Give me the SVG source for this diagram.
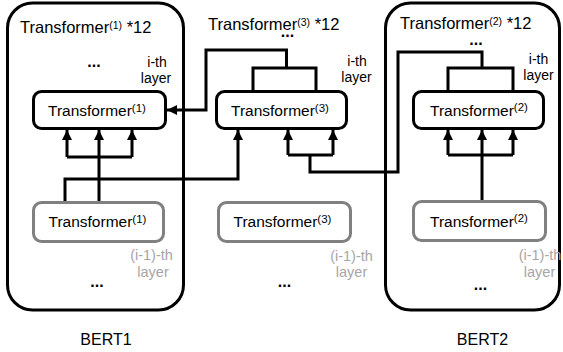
<svg xmlns="http://www.w3.org/2000/svg" width="563" height="352" viewBox="0 0 563 352">
<style>
text{font-family:"Liberation Sans",Arial,sans-serif;fill:#000}
.outer{fill:none;stroke:#000;stroke-width:3}
.blk{fill:#fff;stroke:#000;stroke-width:3}
.gry{fill:#fff;stroke:#808080;stroke-width:3}
.title{font-size:16.5px}
.sup{font-size:10.5px}
.inn{font-size:15.5px}
.isup{font-size:11.5px}
.lab{font-size:14px;text-anchor:middle}
.glab{font-size:14.5px;text-anchor:middle;fill:#a6a6a6}
.dots{font-size:16px;font-weight:bold;text-anchor:middle}
.cap{font-size:16px;text-anchor:middle}
.c{fill:none;stroke:#000;stroke-width:3}
</style>
<defs>
<marker id="ah" viewBox="0 0 10 10" refX="10" refY="5" markerWidth="10" markerHeight="10" markerUnits="userSpaceOnUse" orient="auto">
<path d="M0,0 L10,5 L0,10 z" fill="#000"/>
</marker>
</defs>

<g id="bert1">
<rect class="outer" x="7.5" y="3" width="176" height="307" rx="25"/>
<text class="title" x="20" y="33">Transformer<tspan class="sup" dy="-4.5">(1)</tspan><tspan dy="4.5"> *12</tspan></text>
<text class="dots" x="94" y="67">...</text>
<text class="lab" x="157" y="67">i-th</text>
<text class="lab" x="156" y="83">layer</text>
<text class="glab" x="151.5" y="260">(i-1)-th</text>
<text class="glab" x="153" y="277">layer</text>
<text class="dots" x="97" y="287">...</text>
<text class="cap" x="106" y="345">BERT1</text>
</g>

<g id="bert3">
<text class="title" x="208" y="30">Transformer<tspan class="sup" dy="-4.5">(3)</tspan><tspan dy="4.5"> *12</tspan></text>
<text class="dots" x="287.5" y="37">...</text>
<text class="lab" x="357" y="66">i-th</text>
<text class="lab" x="356.5" y="82">layer</text>
<text class="glab" x="351.5" y="261">(i-1)-th</text>
<text class="glab" x="351.5" y="277">layer</text>
<text class="dots" x="284.5" y="287">...</text>
</g>

<g id="bert2">
<rect class="outer" x="385.5" y="3" width="174" height="307" rx="25"/>
<text class="title" x="400" y="29">Transformer<tspan class="sup" dy="-4.5">(2)</tspan><tspan dy="4.5"> *12</tspan></text>
<text class="dots" x="476" y="45">...</text>
<text class="lab" x="538.5" y="64">i-th</text>
<text class="lab" x="538.5" y="80">layer</text>
<text class="glab" x="540" y="260">(i-1)-th</text>
<text class="glab" x="539.5" y="277">layer</text>
<text class="dots" x="480.5" y="290">...</text>
<text class="cap" x="482.5" y="345">BERT2</text>
</g>

<g id="connectors">
<path class="c" d="M67,157 H132"/>
<path class="c" d="M67,157 V130" marker-end="url(#ah)"/>
<path class="c" d="M132,157 V130" marker-end="url(#ah)"/>
<path class="c" d="M99,201 V130" marker-end="url(#ah)"/>
<path class="c" d="M65,201 V179 H238 V130" marker-end="url(#ah)"/>
<path class="c" d="M288,155 H333"/>
<path class="c" d="M288,155 V130" marker-end="url(#ah)"/>
<path class="c" d="M333,155 V130" marker-end="url(#ah)"/>
<path class="c" d="M310,155 V172 H398 V52 H482 V68"/>
<path class="c" d="M448,90 V68 H513 V90"/>
<path class="c" d="M448,155 H513"/>
<path class="c" d="M448,155 V130" marker-end="url(#ah)"/>
<path class="c" d="M513,155 V130" marker-end="url(#ah)"/>
<path class="c" d="M482,201 V130" marker-end="url(#ah)"/>
<path class="c" d="M253,90 V68 H316 V90"/>
<path class="c" d="M286.5,68 V50 H206 V110 H167" marker-end="url(#ah)"/>
</g>

<g id="t1-i">
<rect class="blk" x="33.5" y="91.5" width="132" height="37" rx="8"/>
<text class="inn" x="48" y="116">Transformer<tspan class="isup" dy="-4.3">(1)</tspan></text>
</g>
<g id="t3-i">
<rect class="blk" x="216.5" y="91.5" width="130" height="37" rx="8"/>
<text class="inn" x="231" y="116">Transformer<tspan class="isup" dy="-4.3">(3)</tspan></text>
</g>
<g id="t2-i">
<rect class="blk" x="413.5" y="91.5" width="130" height="37" rx="8"/>
<text class="inn" x="430" y="115.5">Transformer<tspan class="isup" dy="-4.3">(2)</tspan></text>
</g>
<g id="t1-prev">
<rect class="gry" x="33.5" y="202.5" width="130" height="39" rx="8"/>
<text class="inn" x="48.5" y="227">Transformer<tspan class="isup" dy="-4.3">(1)</tspan></text>
</g>
<g id="t3-prev">
<rect class="gry" x="218.5" y="202.5" width="132" height="39" rx="8"/>
<text class="inn" x="233.5" y="227">Transformer<tspan class="isup" dy="-4.3">(3)</tspan></text>
</g>
<g id="t2-prev">
<rect class="gry" x="413.5" y="201.5" width="132" height="39" rx="8"/>
<text class="inn" x="430" y="226.5">Transformer<tspan class="isup" dy="-4.3">(2)</tspan></text>
</g>
</svg>
